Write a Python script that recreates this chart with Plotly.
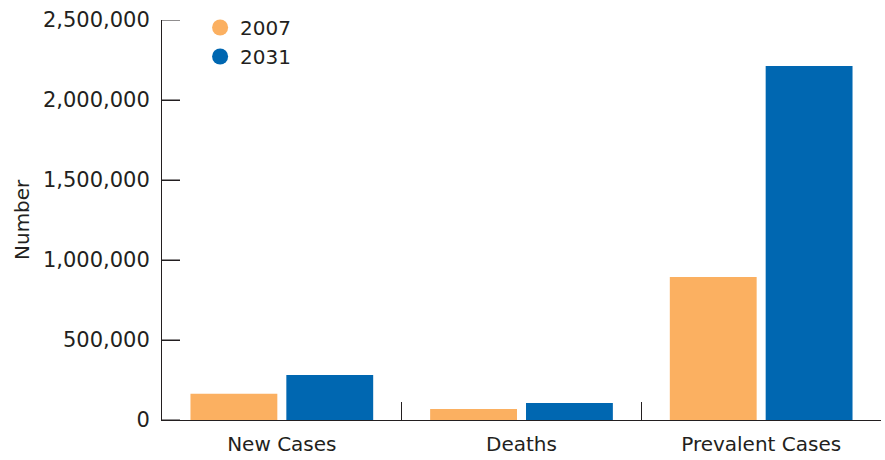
import plotly.graph_objects as go

categories = ["New Cases", "Deaths", "Prevalent Cases"]
series_names = ["2007", "2031"]
values_2007 = [164000, 69000, 894000]
values_2031 = [281000, 106000, 2212000]
y_tick_vals = [0, 500000, 1000000, 1500000, 2000000, 2500000]

colors = {"2007": "#FBB061", "2031": "#0067B1"}
font_family = "DejaVu Sans"
text_color = "#231F20"
axis_color = "#231F20"

fig = go.Figure()
for name, vals in zip(series_names, [values_2007, values_2031]):
    fig.add_trace(go.Bar(x=categories, y=vals, name=name, marker_color=colors[name],
                         marker_line_width=0, showlegend=False))
# legend entries as circles
for name in series_names:
    fig.add_trace(go.Scatter(x=[None], y=[None], mode="markers", name=name,
                             marker=dict(symbol="circle", size=17, color=colors[name])))

plot_w = 885 - 162 - 4
fig.update_layout(
    width=885, height=460,
    margin=dict(l=162, r=4, t=20, b=40),
    paper_bgcolor="white", plot_bgcolor="white",
    barmode="group", bargap=0.2, bargroupgap=0.094,
    font=dict(family=font_family, size=20, color=text_color),
    legend=dict(x=0.053, y=1.03, xanchor="left", yanchor="top",
                bgcolor="rgba(0,0,0,0)", font=dict(size=20, color=text_color),
                tracegroupgap=0, itemwidth=30),
)
fig.update_xaxes(
    automargin=False,
    showline=True, linecolor=axis_color, linewidth=1,
    ticks="inside", tickson="boundaries", ticklen=18, tickcolor=axis_color, tickwidth=1,
    showgrid=False, zeroline=False, ticklabelstandoff=6,
    tickfont=dict(size=20, color=text_color),
)
fig.update_yaxes(
    automargin=False,
    range=[0, 2500000], tickmode="array", tickvals=y_tick_vals, tickformat=",",
    showline=True, linecolor=axis_color, linewidth=1,
    ticks="inside", ticklen=18, tickcolor=axis_color, tickwidth=1,
    showgrid=False, zeroline=False, showticklabels=True, ticklabelstandoff=7,
    tickfont=dict(size=21, color=text_color),
)
# explicit inside tick marks on the y axis
for v in y_tick_vals:
    fig.add_shape(type="line", xref="paper", yref="y", x0=0, x1=18 / plot_w, y0=v, y1=v,
                  line=dict(color=axis_color, width=1), layer="above")

fig.add_annotation(text="Number", x=(22 - 162) / plot_w, y=(420 - 220) / 400,
                   xref="paper", yref="paper", xanchor="center", yanchor="middle",
                   showarrow=False, textangle=-90, font=dict(size=20, color=text_color))

fig.write_html("out.html", config={"displayModeBar": False},
               post_script="document.body.style.margin='0';document.body.style.padding='0';")
